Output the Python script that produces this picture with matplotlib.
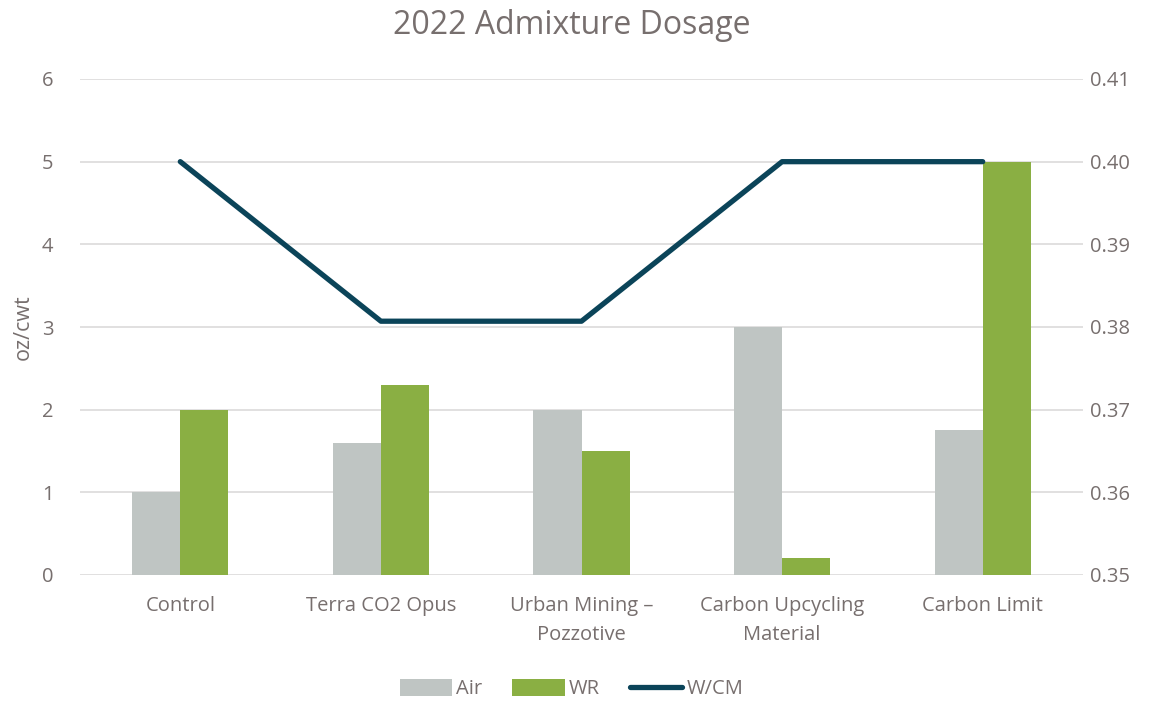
import matplotlib
matplotlib.use("Agg")
import matplotlib.pyplot as plt
import numpy as np

categories = ["Control", "Terra CO2 Opus", "Urban Mining –\nPozzotive",
              "Carbon Upcycling\nMaterial", "Carbon Limit"]
air = [1.0, 1.6, 2.0, 3.0, 1.75]
wr = [2.0, 2.3, 1.5, 0.2, 5.0]
wcm = [0.40, 0.3807, 0.3807, 0.40, 0.40]
left_ticks = [0, 1, 2, 3, 4, 5, 6]
right_ticks = [0.35, 0.36, 0.37, 0.38, 0.39, 0.40, 0.41]

plt.rcParams['font.family'] = ['Open Sans', 'DejaVu Sans']
text_c = "#776F6E"
air_c = "#BFC5C3"
wr_c = "#8AAF43"
line_c = "#0B4459"
grid_c = "#DCDADA"

fig = plt.figure(figsize=(11.5, 7.01), dpi=100)
ax = fig.add_axes([80/1150, 1-575/701, (1083-80)/1150, (575-79)/701])
ax2 = ax.twinx()

x = np.arange(len(categories))
w = 0.24
ax.bar(x - w/2, air, width=w, color=air_c, label="Air", zorder=2)
ax.bar(x + w/2, wr, width=w, color=wr_c, label="WR", zorder=2)
ax2.plot(x, wcm, color=line_c, lw=3.8, label="W/CM", solid_capstyle='round', zorder=3)

ax.set_xlim(-0.5, len(categories) - 0.5)
ax.set_ylim(0, 6)
ax.set_yticks(left_ticks)
ax2.set_ylim(0.35, 0.41)
ax2.set_yticks(right_ticks)
ax2.set_yticklabels([f"{v:.2f}" for v in right_ticks])
ax.yaxis.grid(True, color=grid_c, lw=1.2, zorder=0)
ax.set_axisbelow(True)

fs = 14.5
for a in (ax, ax2):
    for s in a.spines.values():
        s.set_visible(False)
    a.tick_params(length=0, labelsize=fs, colors=text_c)
ax.tick_params(axis='y', pad=19)
ax2.tick_params(axis='y', pad=5)
ax.tick_params(axis='x', pad=15)
ax.set_xticks(x)
ax.set_xticklabels(categories, fontsize=fs, color=text_c, linespacing=1.6)
ax.set_ylabel("oz/cwt", fontsize=15.5, color=text_c)
ax.yaxis.set_label_coords(-0.046, 0.5)

fig.text(0.497, 1 - 25/701, "2022 Admixture Dosage", ha='center', va='center',
         fontsize=23, color=text_c)

h1, l1 = ax.get_legend_handles_labels()
h2, l2 = ax2.get_legend_handles_labels()
fig.legend(h1 + h2, l1 + l2, loc='center', bbox_to_anchor=(0.497, 1 - 689/701),
           ncol=3, frameon=False, fontsize=fs, labelcolor=text_c,
           handlelength=2.6, handleheight=0.9, columnspacing=1.5, handletextpad=0.2)

fig.savefig("out.png", dpi=100)
